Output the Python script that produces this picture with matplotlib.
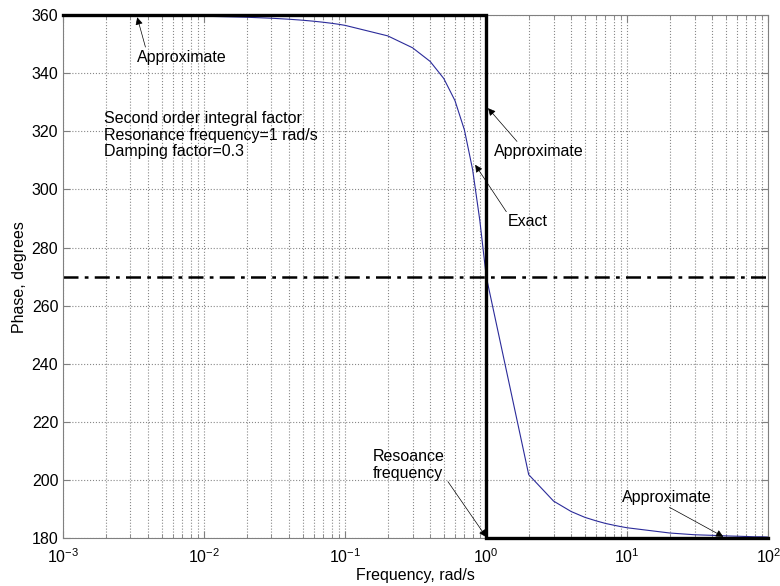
import matplotlib.pyplot as plt
import matplotlib.ticker as mtick

plt.rcParams['font.family'] = ['Liberation Sans', 'DejaVu Sans']
plt.rcParams['mathtext.default'] = 'regular'
plt.rcParams['font.size'] = 11.5

# exact phase curve
freq = [0.001, 0.002, 0.003, 0.004, 0.005, 0.006, 0.007, 0.008, 0.009,
        0.01, 0.02, 0.03, 0.04, 0.05, 0.06, 0.07, 0.08, 0.09,
        0.1, 0.2, 0.3, 0.4, 0.5, 0.6, 0.7, 0.8, 0.9,
        1, 2, 3, 4, 5, 6, 7, 8, 9,
        10, 20, 30, 40, 50, 60, 70, 80, 90, 100]
phase = [359.97, 359.93, 359.9, 359.86, 359.83, 359.79, 359.76, 359.72, 359.69,
         359.66, 359.31, 358.97, 358.62, 358.28, 357.93, 357.58, 357.23, 356.88,
         356.5, 352.9, 348.8, 344.1, 338.2, 330.6, 320.5, 306.9, 289.4,
         270.0, 201.8, 192.7, 189.1, 187.1, 185.9, 185.0, 184.4, 183.9,
         183.5, 181.7, 181.1, 180.9, 180.7, 180.6, 180.5, 180.4, 180.4, 180.3]

# asymptotic approximation
approx_freq = [0.001, 1, 1, 100]
approx_phase = [360, 360, 180, 180]

mid_phase = 270

fig = plt.figure(figsize=(7.8, 5.86), dpi=100)
ax = fig.add_axes([0.081, 0.082, 0.904, 0.892])

ax.semilogx(freq, phase, color='#2b2b9a', lw=0.8, zorder=3)
ax.semilogx(approx_freq, approx_phase, color='black', lw=2.4, zorder=4,
            solid_joinstyle='miter', clip_on=False)
ax.axhline(mid_phase, color='black', lw=1.8, ls=(0, (6, 2.5, 1.5, 2.5)), zorder=2)

ax.set_xlim(1e-3, 1e2)
ax.set_ylim(180, 360)
ax.set_yticks(range(180, 361, 20))
ax.xaxis.set_minor_locator(mtick.LogLocator(base=10, subs=range(2, 10), numticks=20))
ax.xaxis.set_minor_formatter(mtick.NullFormatter())

ax.grid(True, which='major', ls=':', color='#888888', lw=0.8)
ax.grid(True, which='minor', axis='x', ls=':', color='#888888', lw=0.8)
ax.tick_params(which='both', direction='in', top=True, right=True, color='#808080')
ax.tick_params(which='major', length=5)
ax.tick_params(which='minor', length=3)
ax.tick_params(axis='x', pad=7)
for s in ax.spines.values():
    s.set_color('#808080')

ax.set_xlabel('Frequency, rad/s', labelpad=1)
ax.set_ylabel('Phase, degrees', labelpad=3)


def arrow(rx, ry):
    return dict(arrowstyle='-|>', color='black', lw=0.5, mutation_scale=11,
                shrinkA=0, shrinkB=0, relpos=(rx, ry))


ax.annotate('Approximate', xy=(0.00335, 359.3), xytext=(0.00335, 345.5),
            va='center', ha='left', arrowprops=arrow(0.1, 1))
ax.text(0.00195, 318.7, 'Second order integral factor\nResonance frequency=1 rad/s\nDamping factor=0.3',
        va='center', ha='left', linespacing=1.1)
ax.annotate('Approximate', xy=(1.03, 328), xytext=(1.14, 313),
            va='center', ha='left', arrowprops=arrow(0.28, 1))
ax.annotate('Exact', xy=(0.835, 308.5), xytext=(1.43, 288.8),
            va='center', ha='left', arrowprops=arrow(0, 1))
ax.annotate('Resoance\nfrequency', xy=(1, 180.3), xytext=(0.158, 205.1),
            va='center', ha='left', linespacing=1.1, arrowprops=arrow(1, 0.1))
ax.annotate('Approximate', xy=(48, 180.4), xytext=(9.2, 194.1),
            va='center', ha='left', arrowprops=arrow(0.47, 0))

fig.savefig('out.png', dpi=100)
